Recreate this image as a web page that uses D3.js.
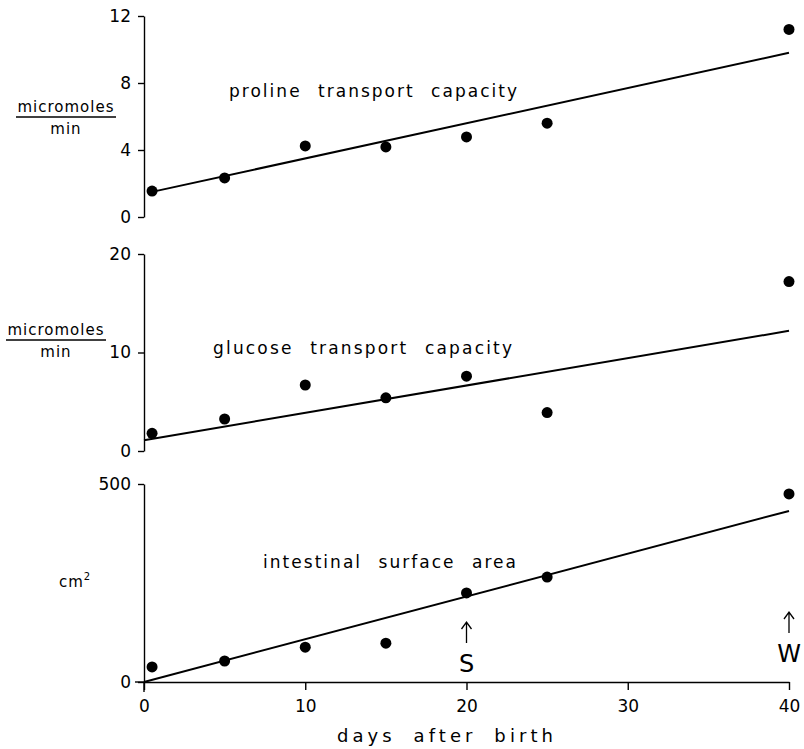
<!DOCTYPE html>
<html>
<head>
<meta charset="utf-8">
<script src="https://cdn.jsdelivr.net/npm/d3@7"></script>
<style>
  body { margin: 0; background: #fff; }
  text { font-family: "DejaVu Sans", sans-serif; fill: #000; }
</style>
</head>
<body>
<script>
// data
var days = [0.5, 5, 10, 15, 20, 25, 40];
var proline = [1.55, 2.33, 4.24, 4.18, 4.78, 5.6, 11.2];
var glucose = [1.8, 3.25, 6.7, 5.4, 7.6, 3.9, 17.2];
var surface = [38, 53, 88, 98, 225, 265, 475];

// fitted lines: [day, value]
var prolineFit = [[0.5, 1.5], [40, 9.8]];
var glucoseFit = [[0, 1.1], [40, 12.2]];
var surfaceFit = [[0, 0], [40, 432]];

var xTicks = [0, 10, 20, 30, 40];
var prolineTicks = [0, 4, 8, 12];
var glucoseTicks = [0, 10, 20];
var surfaceTicks = [0, 500];

var marks = [{label: "S", day: 20}, {label: "W", day: 40}];

var width = 804, height = 749;

var svg = d3.select("body").append("svg")
    .attr("width", width)
    .attr("height", height);

var x = d3.scaleLinear().domain([0, 40]).range([144, 789]);

var panels = [
    {vals: proline, fit: prolineFit, ticks: prolineTicks, domain: [0, 12], range: [217, 16],
     title: "proline transport capacity", tx: 229, ty: 97, tw: 288,
     unit: "frac", ux: 66, uy: 112},
    {vals: glucose, fit: glucoseFit, ticks: glucoseTicks, domain: [0, 20], range: [451, 254],
     title: "glucose transport capacity", tx: 213, ty: 354, tw: 299,
     unit: "frac", ux: 56, uy: 335},
    {vals: surface, fit: surfaceFit, ticks: surfaceTicks, domain: [0, 500], range: [682, 484],
     title: "intestinal surface area", tx: 263, ty: 568, tw: 253,
     unit: "cm", ux: 59, uy: 587}
];

var line = d3.line();

panels.forEach(function(p, i) {
    var y = d3.scaleLinear().domain(p.domain).range(p.range);

    var ax = svg.append("g")
        .attr("transform", "translate(" + x(0) + ",0)")
        .call(d3.axisLeft(y).tickValues(p.ticks).tickSize(6).tickSizeOuter(0).tickPadding(7));
    ax.selectAll("path, line").attr("stroke", "#000").attr("stroke-width", 1.4);
    ax.selectAll("text").style("font-size", "17px").style("font-family", "DejaVu Sans");

    // fitted line
    svg.append("path")
        .attr("d", line(p.fit.map(function(d) { return [x(d[0]), y(d[1])]; })))
        .attr("fill", "none")
        .attr("stroke", "#000")
        .attr("stroke-width", 2);

    // points
    svg.selectAll(".pt" + i)
        .data(p.vals)
        .enter().append("circle")
        .attr("class", "pt" + i)
        .attr("cx", function(d, j) { return x(days[j]); })
        .attr("cy", function(d) { return y(d); })
        .attr("r", 5.5)
        .attr("fill", "#000");

    svg.append("text")
        .attr("x", p.tx)
        .attr("y", p.ty)
        .attr("textLength", p.tw)
        .attr("lengthAdjust", "spacing")
        .style("font-size", "17px")
        .style("word-spacing", "9px")
        .text(p.title);

    if (p.unit == "frac") {
        svg.append("text")
            .attr("x", p.ux).attr("y", p.uy)
            .attr("text-anchor", "middle")
            .style("font-size", "15px")
            .style("letter-spacing", "1px")
            .text("micromoles");
        svg.append("line")
            .attr("x1", p.ux - 50).attr("x2", p.ux + 50)
            .attr("y1", p.uy + 5).attr("y2", p.uy + 5)
            .attr("stroke", "#000").attr("stroke-width", 1.3);
        svg.append("text")
            .attr("x", p.ux).attr("y", p.uy + 22)
            .attr("text-anchor", "middle")
            .style("font-size", "15px")
            .style("letter-spacing", "1px")
            .text("min");
    } else {
        var t = svg.append("text")
            .attr("x", p.ux).attr("y", p.uy)
            .style("font-size", "15px")
            .style("letter-spacing", "1px")
            .text("cm");
        t.append("tspan")
            .attr("dy", -7)
            .style("font-size", "10px")
            .text("2");

        // the bottom panel carries the x axis
        var xa = svg.append("g")
            .attr("transform", "translate(0," + y(0) + ")")
            .call(d3.axisBottom(x).tickValues(xTicks).tickSize(8).tickSizeOuter(0).tickPadding(10));
        xa.selectAll("path, line").attr("stroke", "#000").attr("stroke-width", 1.4);
        xa.selectAll("text").style("font-size", "17px").style("font-family", "DejaVu Sans");

        // small overshoot of the axes past the origin
        svg.append("line")
            .attr("x1", x(0) - 9).attr("x2", x(0))
            .attr("y1", y(0)).attr("y2", y(0))
            .attr("stroke", "#000").attr("stroke-width", 1.4);
        svg.append("line")
            .attr("x1", x(0)).attr("x2", x(0))
            .attr("y1", y(0)).attr("y2", y(0) + 10)
            .attr("stroke", "#000").attr("stroke-width", 1.4);
    }
});

// S and W arrows
var arrowTop = {S: 622, W: 612};
marks.forEach(function(m) {
    var ax0 = x(m.day), top = arrowTop[m.label];
    svg.append("path")
        .attr("d", "M" + ax0 + "," + (top + 21) + "V" + top +
                   "M" + (ax0 - 5) + "," + (top + 7) + "L" + ax0 + "," + top + "L" + (ax0 + 5) + "," + (top + 7))
        .attr("fill", "none")
        .attr("stroke", "#000")
        .attr("stroke-width", 1.3);
    svg.append("text")
        .attr("x", ax0)
        .attr("y", top + 50)
        .attr("text-anchor", "middle")
        .style("font-size", "24px")
        .text(m.label);
});

svg.append("text")
    .attr("x", 337)
    .attr("y", 742)
    .attr("textLength", 216)
    .attr("lengthAdjust", "spacing")
    .style("font-size", "18px")
    .style("word-spacing", "8px")
    .text("days after birth");
</script>
</body>
</html>
